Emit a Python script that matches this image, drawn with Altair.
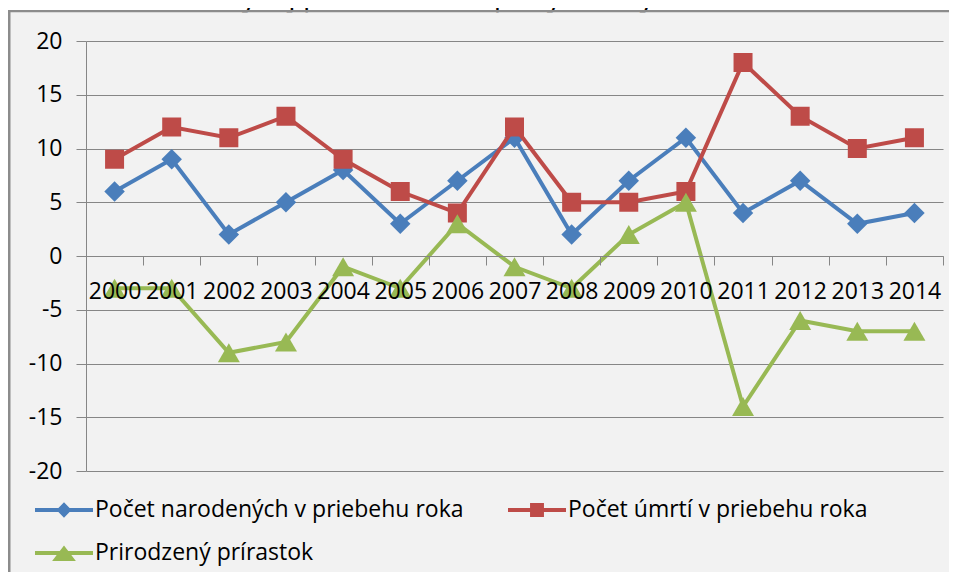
import altair as alt
import pandas as pd

# ---- data ----
years = [str(y) for y in range(2000, 2015)]
births = [6, 9, 2, 5, 8, 3, 7, 11, 2, 7, 11, 4, 7, 3, 4]
deaths = [9, 12, 11, 13, 9, 6, 4, 12, 5, 5, 6, 18, 13, 10, 11]
increase = [-3, -3, -9, -8, -1, -3, 3, -1, -3, 2, 5, -14, -6, -7, -7]
series_names = [
    "Počet narodených v priebehu roka",
    "Počet úmrtí v priebehu roka",
    "Prirodzený prírastok",
]
y_ticks = [-20, -15, -10, -5, 0, 5, 10, 15, 20]
title_text = "Vývoj prirodzeného pohybu obyvateľov"

# ---- styling ----
colors = ["#4A7EBB", "#BE4B48", "#98B954"]
marker_shapes = ["diamond", "square", "triangle-up"]
marker_sizes = [420, 361, 484]
legend_paths = [
    "M-1,-0.07H1V0.07H-1Z M0,-0.27L0.26,0L0,0.27L-0.26,0Z",
    "M-1,-0.07H1V0.07H-1Z M-0.24,-0.24H0.24V0.24H-0.24Z",
    "M-1,-0.07H1V0.07H-1Z M0,-0.26L0.41,0.28H-0.41Z",
]
GRAY = "#868686"
BG = "#f2f2f2"
FONT = "Open Sans"
W, H = 857, 430

rows = []
for name, vals in zip(series_names, [births, deaths, increase]):
    for yr, v in zip(years, vals):
        rows.append({"rok": yr, "seria": name, "hodnota": v})
df = pd.DataFrame(rows)

x_enc = alt.X(
    "rok:N",
    sort=years,
    bandPosition=0.5,
    scale=alt.Scale(type="band", paddingInner=0, paddingOuter=0),
    axis=alt.Axis(
        title=None, orient="bottom", offset=-(H / 2), labelAngle=0,
        tickBand="extent", tickSize=9, tickColor=GRAY, domainColor=GRAY,
        labelFont=FONT, labelFontSize=23, labelColor="black",
        labelPadding=15, labelOverlap=False, grid=False, zindex=1,
    ),
)
y_axis = alt.Axis(
    title=None, values=y_ticks, grid=True, gridColor=GRAY, gridWidth=1,
    domainColor=GRAY, tickColor=GRAY, tickSize=10,
    labelFont=FONT, labelFontSize=23, labelColor="black", labelPadding=14,
    labelExpr="'' + datum.value",
)
y_scale = alt.Scale(domain=[-20, 20], nice=False, zero=False)

base = alt.Chart(df)
layers = []
one = alt.Data(values=[{}])


def band(fill, x1, x2, y1, y2):
    return alt.Chart(one).mark_rect(fill=fill).encode(
        x=alt.value(x1), x2=alt.value(x2), y=alt.value(y1), y2=alt.value(y2))


# white strip above the frame
layers.append(band("white", -78, 2000, -60, -31))

for i, name in enumerate(series_names):
    sub = base.transform_filter(alt.datum.seria == name)
    layers.append(sub.mark_line(color=colors[i], strokeWidth=4).encode(
        x=x_enc, y=alt.Y("hodnota:Q", scale=y_scale, axis=y_axis)))
    layers.append(sub.mark_point(shape=marker_shapes[i], size=marker_sizes[i],
                                 filled=True, color=colors[i], opacity=1).encode(
        x=x_enc, y=alt.Y("hodnota:Q", scale=y_scale, axis=y_axis)))

legend = alt.Legend(
    title=None, orient="none", legendX=-51, legendY=440, columns=2,
    direction="horizontal",
    symbolSize=3364, symbolStrokeWidth=0, labelFont=FONT, labelFontSize=23,
    labelColor="black", labelLimit=700, labelOffset=2, columnPadding=44,
    rowPadding=2, padding=0,
)
# legend-only layer (points placed outside the plot and clipped)
layers.append(
    base.transform_calculate(mimo="40")
    .mark_point(filled=True, clip=True, opacity=1)
    .encode(
        x=x_enc,
        y=alt.Y("mimo:Q", scale=y_scale, axis=y_axis),
        color=alt.Color("seria:N", scale=alt.Scale(domain=series_names, range=colors), legend=legend),
        shape=alt.Shape("seria:N", scale=alt.Scale(domain=series_names, range=legend_paths), legend=legend),
    )
)

# title (its top lies above the page, as in the reference)
layers.append(alt.Chart(one).mark_text(
    font=FONT, fontSize=29, color="black", align="center", baseline="alphabetic"
).encode(x=alt.value(401.5), y=alt.value(-33.7), text=alt.value(title_text)))

# frame border (top, left) drawn over the title's descenders
layers.append(band(BG, -75.5, 2000, -28.7, -24))
layers.append(band("#8c8c8c", -78, 2000, -31, -28.7))
layers.append(band("#8c8c8c", -78, -75.5, -31, 600))

chart = alt.layer(*layers).properties(
    width=W, height=H,
    autosize=alt.AutoSizeParams(type="none"),
    padding={"left": 78, "top": 33, "right": 6, "bottom": 101},
    background=BG,
).configure_view(stroke=None)

chart.save("out.html", embed_options={"renderer": "svg", "actions": False})
